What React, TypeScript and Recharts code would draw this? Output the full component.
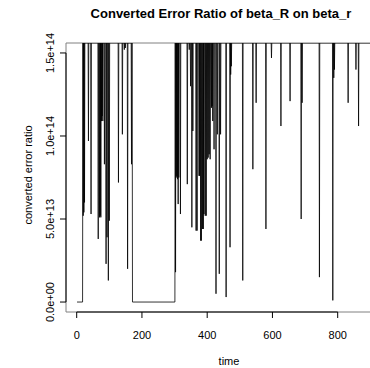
import React from 'react';
import { LineChart, Line, XAxis, YAxis, ReferenceLine, ReferenceArea } from 'recharts';

// ---- data (values in units of 1e13) ----
const TOP = 15.6;
const baseTimes = [1, 18, 19, 170, 171, 301, 302, 915];
const baseValues = [0, 0, TOP, TOP, 0, 0, TOP, TOP];
const dipTimes = [
  20, 22, 24, 36, 44, 66, 70, 72, 74, 76, 78, 80, 85, 90, 93, 97, 100, 128, 140, 146, 149, 156, 168,
  303, 305, 307, 309, 311, 313, 318, 339, 345, 349, 353, 356, 366, 369, 375, 377, 380, 382,
  386, 388, 390, 394, 397, 400, 403, 406, 409, 413, 415, 417, 421, 427, 431, 437, 441,
  458, 470, 472, 474, 509, 540, 550, 580, 597, 626, 654, 688, 691, 744, 785, 788, 790, 832, 856, 864,
];
const dipValues = [
  5.2, 5.4, 6.0, 9.7, 5.3, 3.8, 5.1, 5.2, 5.1, 10.9, 11.2, 10.9, 8.3, 2.3, 3.9, 1.3, 4.9, 7.2, 10.1, 15.2, 15.3, 2.0, 8.3,
  1.8, 7.5, 7.6, 7.4, 5.9, 7.5, 5.3, 7.1, 15.2, 13.0, 4.5, 10.3, 4.3, 4.3, 7.6, 7.6, 3.7, 3.7,
  4.4, 4.4, 5.3, 5.2, 5.2, 8.6, 8.7, 8.9, 8.6, 11.7, 11.8, 10.9, 9.2, 0.5, 10.1, 1.7, 10.1,
  0.3, 3.3, 13.7, 14.2, 1.3, 8.0, 12.0, 4.4, 14.7, 10.6, 12.1, 5.0, 12.0, 1.5, 0.1, 13.5, 14.0, 12.0, 14.0, 10.6,
];
const xTicks = [0, 200, 400, 600, 800];
const xTickLabels = ['0', '200', '400', '600', '800'];
const yTicks = [0, 5e13, 1e14, 1.5e14];
const yTickLabels = ['0.0e+00', '5.0e+13', '1.0e+14', '1.5e+14'];

const UNIT = 1e13;
const X_MIN = -32.8;
const X_MAX = 917.4;
const Y_MIN = -0.6 * UNIT;
const Y_MAX = TOP * UNIT;

type Pt = { t: number; v: number };
const pts: Pt[] = [];
baseTimes.forEach((t, i) => pts.push({ t, v: baseValues[i] * UNIT }));
dipTimes.forEach((t, i) => {
  pts.push({ t: t - 1, v: TOP * UNIT });
  pts.push({ t, v: dipValues[i] * UNIT });
  pts.push({ t: t + 1, v: TOP * UNIT });
});
const data = pts
  .map((p, i) => ({ ...p, i }))
  .sort((a, b) => a.t - b.t || a.i - b.i)
  .map(({ t, v }) => ({ t, v }));

const FONT = '"Liberation Sans", Arial, Helvetica, sans-serif';
const PLOT_LEFT = 66;
const PLOT_TOP = 43;
const PLOT_BOTTOM = 312;

const XTick = (p: any) => {
  const idx = xTicks.indexOf(p.payload.value);
  return (
    <text x={p.x} y={PLOT_BOTTOM + 27} textAnchor="middle" fontSize={11} fill="#000" fontFamily={FONT}>
      {idx >= 0 ? xTickLabels[idx] : ''}
    </text>
  );
};

const YTick = (p: any) => {
  const idx = yTicks.indexOf(p.payload.value);
  const x = PLOT_LEFT - 11.5;
  return (
    <text x={x} y={p.y} transform={`rotate(-90, ${x}, ${p.y})`} textAnchor="middle" fontSize={11} fill="#000" fontFamily={FONT}>
      {idx >= 0 ? yTickLabels[idx] : ''}
    </text>
  );
};

export default function App() {
  return (
    <div style={{ position: 'fixed', left: 0, top: 0, width: 370, height: 368, overflow: 'hidden', background: '#fff' }}>
      <LineChart width={380} height={368} data={data} margin={{ top: PLOT_TOP, right: 4, bottom: 0, left: 0 }}>
        <XAxis
          type="number"
          dataKey="t"
          domain={[X_MIN, X_MAX]}
          allowDataOverflow
          ticks={xTicks}
          axisLine={false}
          tickLine={{ stroke: '#000' }}
          tickSize={6}
          height={56}
          tick={XTick}
          interval={0}
        />
        <YAxis
          type="number"
          domain={[Y_MIN, Y_MAX]}
          allowDataOverflow
          ticks={yTicks}
          axisLine={false}
          tickLine={{ stroke: '#000' }}
          tickSize={6}
          width={PLOT_LEFT}
          tick={YTick}
          interval={0}
        />
        <ReferenceArea x1={X_MIN} x2={X_MAX} y1={Y_MIN} y2={Y_MAX} fill="none" stroke="#808080" strokeWidth={1} ifOverflow="visible" />
        <ReferenceLine segment={[{ x: 0, y: Y_MIN }, { x: 800, y: Y_MIN }]} stroke="#000" ifOverflow="visible" />
        <ReferenceLine segment={[{ x: X_MIN, y: 0 }, { x: X_MIN, y: 1.5e14 }]} stroke="#000" ifOverflow="visible" />
        <Line type="linear" dataKey="v" stroke="#000" strokeWidth={0.8} dot={false} isAnimationActive={false} />
      </LineChart>
      <svg width={370} height={368} style={{ position: 'absolute', left: 0, top: 0, pointerEvents: 'none' }}>
        <text x={221} y={18} textAnchor="middle" fontSize={13} fontWeight="bold" fill="#000" fontFamily={FONT}>
          Converted Error Ratio of beta_R on beta_r
        </text>
        <text x={229} y={365} textAnchor="middle" fontSize={11} fill="#000" fontFamily={FONT}>
          time
        </text>
        <text x={32} y={175} transform="rotate(-90, 32, 175)" textAnchor="middle" fontSize={11} fill="#000" fontFamily={FONT}>
          converted error ratio
        </text>
      </svg>
    </div>
  );
}
